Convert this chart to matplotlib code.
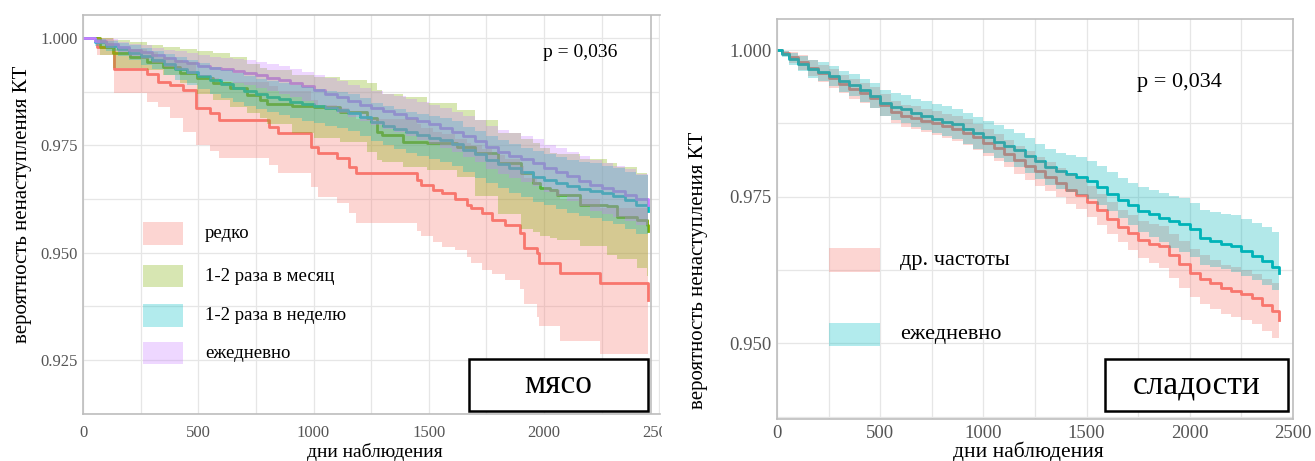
import matplotlib
matplotlib.use("Agg")
import matplotlib.pyplot as plt
from matplotlib.patches import Rectangle
from matplotlib.ticker import MultipleLocator, FormatStrFormatter

plt.rcParams['font.family'] = ['Liberation Serif', 'DejaVu Serif']

W, H = 1315, 461

# ---- мясо: кривые Каплана-Мейера по частоте потребления ----
rare_t = [0, 60, 133, 278, 325, 378, 434, 490, 552, 590, 808, 845, 990, 1018, 1100, 1155, 1183,
          1448, 1466, 1519, 1557, 1613, 1667, 1685, 1731, 1776, 1830, 1895, 1913, 1968, 1977,
          2068, 2242, 2450]
rare_s = [1.000, 0.9980, 0.9927, 0.9916, 0.9898, 0.9890, 0.9879, 0.9837, 0.9825, 0.9809, 0.9793,
          0.9779, 0.9747, 0.9733, 0.9720, 0.9700, 0.9686, 0.9670, 0.9658, 0.9646, 0.9639, 0.9625,
          0.9611, 0.9604, 0.9593, 0.9577, 0.9565, 0.9546, 0.9511, 0.9500, 0.9477, 0.9453, 0.9430,
          0.9390]
rare_lo = [1.000, 0.9960, 0.9872, 0.9852, 0.9840, 0.9814, 0.9782, 0.9751, 0.9736, 0.9720, 0.9705,
           0.9686, 0.9653, 0.9630, 0.9616, 0.9593, 0.9570, 0.9550, 0.9540, 0.9525, 0.9514, 0.9507,
           0.9490, 0.9477, 0.9460, 0.9450, 0.9437, 0.9415, 0.9380, 0.9350, 0.9328, 0.9293, 0.9263,
           0.9263]
rare_hi = [1.000, 1.000, 0.9975, 0.9968, 0.9955, 0.9950, 0.9945, 0.9915, 0.9908, 0.9898, 0.9888,
           0.9878, 0.9855, 0.9845, 0.9837, 0.9822, 0.9812, 0.9800, 0.9790, 0.9782, 0.9777, 0.9765,
           0.9755, 0.9750, 0.9742, 0.9728, 0.9718, 0.9702, 0.9675, 0.9665, 0.9645, 0.9625, 0.9605,
           0.9575]

month_t = [0, 74, 130, 204, 276, 349, 421, 493, 565, 638, 710, 768, 797, 905, 1000, 1115, 1230,
           1274, 1296, 1388, 1491, 1621, 1700, 1800, 1900, 1952, 1983, 2026, 2055, 2156, 2272,
           2315, 2402, 2445, 2450]
month_s = [1.000, 0.9980, 0.9965, 0.9957, 0.9945, 0.9933, 0.9918, 0.9907, 0.9895, 0.9884, 0.9867,
           0.9856, 0.9846, 0.9843, 0.9840, 0.9829, 0.9815, 0.9782, 0.9774, 0.9759, 0.9756, 0.9747,
           0.9733, 0.9710, 0.9686, 0.9663, 0.9651, 0.9646, 0.9635, 0.9612, 0.9608, 0.9584, 0.9577,
           0.9565, 0.9550]
month_lo = [1.000, 0.9960, 0.9930, 0.9930, 0.9925, 0.9915, 0.9895, 0.9870, 0.9855, 0.9840, 0.9825,
            0.9815, 0.9800, 0.9780, 0.9767, 0.9759, 0.9735, 0.9716, 0.9712, 0.9700, 0.9693, 0.9677,
            0.9631, 0.9590, 0.9555, 0.9548, 0.9540, 0.9535, 0.9530, 0.9515, 0.9495, 0.9485, 0.9465,
            0.9445, 0.9445]
month_hi = [1.000, 1.000, 0.9995, 0.9990, 0.9985, 0.9980, 0.9975, 0.9970, 0.9965, 0.9955, 0.9940,
            0.9930, 0.9925, 0.9915, 0.9910, 0.9902, 0.9895, 0.9879, 0.9870, 0.9863, 0.9849, 0.9833,
            0.9810, 0.9779, 0.9765, 0.9756, 0.9745, 0.9733, 0.9730, 0.9718, 0.9710, 0.9700, 0.9686,
            0.9680, 0.9670]

# недельная и ежедневная группы: много мелких событий, шаг по времени 50 дней
grid50_t = [0, 50, 100, 150, 200, 250, 300, 350, 400, 450, 500, 550, 600, 650, 700, 750, 800,
            850, 900, 950, 1000, 1050, 1100, 1150, 1200, 1250, 1300, 1350, 1400, 1450, 1500,
            1550, 1600, 1650, 1700, 1750, 1800, 1850, 1900, 1950, 2000, 2050, 2100, 2150, 2200,
            2250, 2300, 2350, 2400, 2450]

week_s = [1.0000, 0.9990, 0.9981, 0.9974, 0.9966, 0.9958, 0.9949, 0.9939, 0.9929, 0.9920, 0.9911,
          0.9902, 0.9893, 0.9885, 0.9877, 0.9870, 0.9864, 0.9858, 0.9852, 0.9847, 0.9842, 0.9837,
          0.9832, 0.9826, 0.9817, 0.9805, 0.9796, 0.9789, 0.9781, 0.9774, 0.9768, 0.9762, 0.9754,
          0.9740, 0.9729, 0.9717, 0.9707, 0.9697, 0.9687, 0.9677, 0.9670, 0.9662, 0.9655, 0.9649,
          0.9644, 0.9638, 0.9632, 0.9622, 0.9612, 0.9596]
week_hi = [1.0000, 0.9998, 0.9993, 0.9989, 0.9984, 0.9978, 0.9971, 0.9963, 0.9955, 0.9948, 0.9941,
           0.9933, 0.9925, 0.9918, 0.9911, 0.9905, 0.9900, 0.9895, 0.9890, 0.9886, 0.9882, 0.9878,
           0.9874, 0.9869, 0.9861, 0.9850, 0.9842, 0.9836, 0.9829, 0.9823, 0.9818, 0.9813, 0.9806,
           0.9793, 0.9783, 0.9772, 0.9763, 0.9754, 0.9745, 0.9736, 0.9730, 0.9723, 0.9717, 0.9712,
           0.9708, 0.9703, 0.9698, 0.9689, 0.9680, 0.9665]
week_lo = [1.0000, 0.9982, 0.9969, 0.9959, 0.9948, 0.9938, 0.9927, 0.9915, 0.9903, 0.9892, 0.9881,
           0.9871, 0.9861, 0.9852, 0.9843, 0.9835, 0.9828, 0.9821, 0.9814, 0.9808, 0.9802, 0.9796,
           0.9790, 0.9783, 0.9773, 0.9760, 0.9750, 0.9742, 0.9733, 0.9725, 0.9718, 0.9711, 0.9702,
           0.9687, 0.9675, 0.9662, 0.9651, 0.9640, 0.9629, 0.9618, 0.9610, 0.9601, 0.9593, 0.9586,
           0.9580, 0.9573, 0.9566, 0.9555, 0.9544, 0.9527]

daily_s = [1.0000, 0.9993, 0.9987, 0.9980, 0.9973, 0.9967, 0.9960, 0.9953, 0.9947, 0.9941, 0.9936,
           0.9931, 0.9927, 0.9923, 0.9919, 0.9914, 0.9908, 0.9902, 0.9896, 0.9888, 0.9880, 0.9871,
           0.9863, 0.9854, 0.9845, 0.9837, 0.9830, 0.9823, 0.9815, 0.9807, 0.9799, 0.9791, 0.9782,
           0.9771, 0.9760, 0.9746, 0.9735, 0.9726, 0.9718, 0.9710, 0.9697, 0.9688, 0.9678, 0.9667,
           0.9657, 0.9650, 0.9643, 0.9634, 0.9624, 0.9612]
daily_hi = [1.0000, 0.9999, 0.9997, 0.9992, 0.9987, 0.9983, 0.9978, 0.9973, 0.9969, 0.9965, 0.9961,
            0.9957, 0.9954, 0.9951, 0.9948, 0.9944, 0.9939, 0.9934, 0.9929, 0.9922, 0.9915, 0.9907,
            0.9900, 0.9892, 0.9884, 0.9877, 0.9871, 0.9865, 0.9858, 0.9851, 0.9844, 0.9837, 0.9829,
            0.9819, 0.9809, 0.9796, 0.9786, 0.9778, 0.9771, 0.9764, 0.9752, 0.9744, 0.9735, 0.9725,
            0.9716, 0.9710, 0.9703, 0.9694, 0.9684, 0.9672]
daily_lo = [1.0000, 0.9987, 0.9977, 0.9968, 0.9959, 0.9951, 0.9942, 0.9933, 0.9925, 0.9917, 0.9911,
            0.9905, 0.9900, 0.9895, 0.9890, 0.9884, 0.9877, 0.9870, 0.9863, 0.9854, 0.9845, 0.9835,
            0.9826, 0.9816, 0.9806, 0.9797, 0.9789, 0.9781, 0.9772, 0.9763, 0.9754, 0.9745, 0.9735,
            0.9723, 0.9711, 0.9696, 0.9684, 0.9674, 0.9665, 0.9656, 0.9642, 0.9632, 0.9621, 0.9609,
            0.9598, 0.9590, 0.9583, 0.9574, 0.9564, 0.9552]

meat_labels = ['редко', '1-2 раза в месяц', '1-2 раза в неделю', 'ежедневно']

# ---- сладости ----
sweet_t = [0, 25, 60, 100, 150, 200, 250, 300, 350, 400, 450, 500, 550, 600, 650, 700, 750, 800,
           850, 900, 950, 1000, 1050, 1100, 1150, 1200, 1250, 1300, 1350, 1400, 1450, 1500, 1550,
           1600, 1650, 1700, 1750, 1800, 1850, 1900, 1950, 2000, 2050, 2100, 2150, 2200, 2250,
           2300, 2350, 2400, 2430]

sw_daily_s = [1.0000, 0.9993, 0.9985, 0.9977, 0.9968, 0.9963, 0.9955, 0.9947, 0.9940, 0.9931,
              0.9922, 0.9910, 0.9903, 0.9899, 0.9893, 0.9888, 0.9883, 0.9878, 0.9874, 0.9866,
              0.9859, 0.9851, 0.9844, 0.9837, 0.9830, 0.9820, 0.9810, 0.9800, 0.9793, 0.9788,
              0.9783, 0.9776, 0.9766, 0.9755, 0.9744, 0.9735, 0.9726, 0.9720, 0.9714, 0.9708,
              0.9703, 0.9694, 0.9680, 0.9675, 0.9670, 0.9665, 0.9657, 0.9648, 0.9640, 0.9630,
              0.9620]
sw_daily_hi = [1.0000, 0.9998, 0.9995, 0.9990, 0.9983, 0.9979, 0.9972, 0.9965, 0.9959, 0.9951,
               0.9943, 0.9932, 0.9926, 0.9923, 0.9917, 0.9913, 0.9908, 0.9904, 0.9900, 0.9893,
               0.9886, 0.9879, 0.9872, 0.9866, 0.9859, 0.9850, 0.9840, 0.9831, 0.9825, 0.9821,
               0.9817, 0.9811, 0.9802, 0.9792, 0.9782, 0.9774, 0.9766, 0.9761, 0.9756, 0.9751,
               0.9747, 0.9739, 0.9727, 0.9724, 0.9721, 0.9718, 0.9712, 0.9705, 0.9698, 0.9689,
               0.9680]
sw_daily_lo = [1.0000, 0.9988, 0.9975, 0.9964, 0.9953, 0.9947, 0.9938, 0.9929, 0.9921, 0.9911,
               0.9901, 0.9888, 0.9880, 0.9876, 0.9869, 0.9864, 0.9858, 0.9853, 0.9848, 0.9840,
               0.9832, 0.9824, 0.9816, 0.9809, 0.9801, 0.9790, 0.9780, 0.9770, 0.9763, 0.9758,
               0.9753, 0.9746, 0.9736, 0.9725, 0.9714, 0.9702, 0.9690, 0.9681, 0.9672, 0.9663,
               0.9656, 0.9647, 0.9634, 0.9630, 0.9626, 0.9622, 0.9615, 0.9607, 0.9599, 0.9590,
               0.9580]

sw_other_s = [1.0000, 0.9995, 0.9988, 0.9979, 0.9970, 0.9961, 0.9952, 0.9942, 0.9934, 0.9927,
              0.9919, 0.9906, 0.9894, 0.9888, 0.9884, 0.9879, 0.9875, 0.9870, 0.9865, 0.9859,
              0.9851, 0.9842, 0.9833, 0.9823, 0.9812, 0.9803, 0.9793, 0.9784, 0.9773, 0.9762,
              0.9753, 0.9741, 0.9727, 0.9712, 0.9699, 0.9688, 0.9676, 0.9670, 0.9665, 0.9650,
              0.9635, 0.9620, 0.9610, 0.9602, 0.9594, 0.9589, 0.9584, 0.9577, 0.9566, 0.9555,
              0.9540]
sw_other_hi = [1.0000, 0.9999, 0.9997, 0.9991, 0.9983, 0.9975, 0.9967, 0.9958, 0.9951, 0.9944,
               0.9937, 0.9925, 0.9913, 0.9907, 0.9904, 0.9899, 0.9896, 0.9891, 0.9887, 0.9882,
               0.9874, 0.9866, 0.9857, 0.9847, 0.9836, 0.9828, 0.9818, 0.9809, 0.9799, 0.9788,
               0.9780, 0.9768, 0.9755, 0.9740, 0.9727, 0.9718, 0.9708, 0.9703, 0.9700, 0.9687,
               0.9674, 0.9660, 0.9650, 0.9642, 0.9634, 0.9630, 0.9625, 0.9618, 0.9610, 0.9603,
               0.9595]
sw_other_lo = [1.0000, 0.9990, 0.9978, 0.9966, 0.9956, 0.9946, 0.9936, 0.9926, 0.9917, 0.9910,
               0.9901, 0.9887, 0.9875, 0.9869, 0.9865, 0.9860, 0.9855, 0.9850, 0.9845, 0.9838,
               0.9829, 0.9819, 0.9810, 0.9800, 0.9789, 0.9779, 0.9768, 0.9759, 0.9749, 0.9738,
               0.9729, 0.9716, 0.9701, 0.9686, 0.9672, 0.9659, 0.9645, 0.9636, 0.9628, 0.9611,
               0.9594, 0.9578, 0.9567, 0.9558, 0.9549, 0.9544, 0.9539, 0.9532, 0.9521, 0.9509,
               0.9494]

sweet_labels = ['др. частоты', 'ежедневно']

pal = ['#F8766D', '#7CAE00', '#00BFC4', '#C77CFF']
grid_c = '#E6E6E6'
border_c = '#BDBDBD'
tick_c = '#555555'


def fx(px):
    return px / W


def fy(py):
    return 1 - py / H


def box(x0, y0, x1, y1):
    return [fx(x0), fy(y1), fx(x1) - fx(x0), fy(y0) - fy(y1)]


def style_axes(ax, fs, xpad):
    ax.xaxis.set_major_locator(MultipleLocator(500))
    ax.xaxis.set_minor_locator(MultipleLocator(250))
    ax.yaxis.set_major_locator(MultipleLocator(0.025))
    ax.yaxis.set_minor_locator(MultipleLocator(0.0125))
    ax.yaxis.set_major_formatter(FormatStrFormatter('%.3f'))
    ax.grid(which='both', color=grid_c, lw=0.9)
    ax.set_axisbelow(True)
    ax.tick_params(which='both', length=0, labelsize=fs, labelcolor=tick_c)
    ax.tick_params(axis='x', pad=xpad)
    ax.tick_params(axis='y', pad=4)
    for s in ax.spines.values():
        s.set_color(border_c)
        s.set_linewidth(1.2)


def km(ax, t, s, lo, hi, color, lw=2.0):
    # линия под доверительной полосой, как в survminer
    ax.step(t, s, where='post', color=color, lw=lw, zorder=2)
    ax.fill_between(t, lo, hi, step='post', color=color, alpha=0.3, lw=0, zorder=3)


fig = plt.figure(figsize=(W / 100, H / 100), dpi=100)

# левая панель
ax1 = fig.add_axes(box(83, 15, 660, 414))
ax1.set_xlim(0, 2503)
ax1.set_ylim(0.9124, 1.0054)
style_axes(ax1, 12, 8)
ax1.spines['right'].set_visible(False)
ax1.axvline(2465, color=border_c, lw=1.2, zorder=1)

km(ax1, rare_t, rare_s, rare_lo, rare_hi, pal[0])
km(ax1, month_t, month_s, month_lo, month_hi, pal[1])
km(ax1, grid50_t, week_s, week_lo, week_hi, pal[2])
km(ax1, grid50_t, daily_s, daily_lo, daily_hi, pal[3])

ax1.text(2155, 0.9966, 'p = 0,036', fontsize=14, ha='center', va='center')

# правая панель
ax2 = fig.add_axes(box(777, 19, 1293, 419))
ax2.set_xlim(0, 2500)
ax2.set_ylim(0.93708, 1.00529)
style_axes(ax2, 13.5, 4)
ax2.set_zorder(3)

km(ax2, sweet_t, sw_other_s, sw_other_lo, sw_other_hi, pal[0])
km(ax2, sweet_t, sw_daily_s, sw_daily_lo, sw_daily_hi, '#00B3B8')

ax2.text(1950, 0.9945, 'p = 0,034', fontsize=16, ha='center', va='center')

# белая подложка между панелями
fig.add_artist(Rectangle((fx(662), 0), 1 - fx(662), 1, transform=fig.transFigure,
                         facecolor='white', edgecolor='none', zorder=1))

# подписи осей
fig.text(fx(23), fy(204), 'вероятность ненаступления КТ', rotation=90, ha='center',
         va='center', fontsize=15)
fig.text(fx(375), fy(452), 'дни наблюдения', ha='center', va='center', fontsize=14)
fig.text(fx(699), fy(270), 'вероятность ненаступления КТ', rotation=90, ha='center',
         va='center', fontsize=15, zorder=4)
fig.text(fx(1028), fy(452), 'дни наблюдения', ha='center', va='center', fontsize=15.5,
         zorder=4)

# легенды
meat_rows = [(222, 245), (265, 287), (304, 327), (342, 364)]
for (y0, y1), lab, c in zip(meat_rows, meat_labels, pal):
    fig.add_artist(Rectangle((fx(143), fy(y1)), fx(183) - fx(143), fy(y0) - fy(y1),
                             transform=fig.transFigure, facecolor=c, alpha=0.3,
                             edgecolor='none'))
    fig.text(fx(205), fy((y0 + y1) / 2), lab, ha='left', va='center', fontsize=13.5)

sweet_rows = [(248, 272), (323, 346)]
for (y0, y1), lab, c in zip(sweet_rows, sweet_labels, [pal[0], pal[2]]):
    fig.add_artist(Rectangle((fx(829), fy(y1)), fx(880) - fx(829), fy(y0) - fy(y1),
                             transform=fig.transFigure, facecolor=c, alpha=0.3,
                             edgecolor='none', zorder=4))
    fig.text(fx(900), fy((y0 + y1) / 2), lab, ha='left', va='center', fontsize=16, zorder=4)

# рамки с названиями продуктов
for (x0, y0, x1, y1), name in [((469, 359, 648, 411), 'мясо'),
                               ((1105, 359, 1288, 411), 'сладости')]:
    fig.add_artist(Rectangle((fx(x0), fy(y1)), fx(x1) - fx(x0), fy(y0) - fy(y1),
                             transform=fig.transFigure, facecolor='white',
                             edgecolor='black', lw=1.8, zorder=5))
    fig.text(fx((x0 + x1) / 2), fy(385), name, ha='center', va='center', fontsize=24,
             zorder=6)

fig.savefig('out.png', dpi=100)
